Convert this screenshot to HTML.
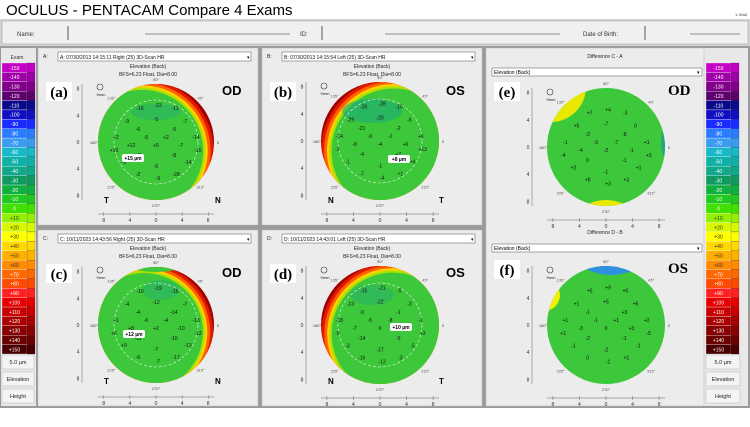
<!DOCTYPE html>
<html><head><meta charset="utf-8">
<style>
body{margin:0;width:750px;height:422px;overflow:hidden;background:#fff;font-family:"Liberation Sans",sans-serif}
</style></head>
<body>
<svg id="s" width="750" height="422" viewBox="0 0 750 422" xmlns="http://www.w3.org/2000/svg">
<rect x="0" y="0" width="750" height="422" fill="#fff"/>
<text x="6" y="15" font-size="15" font-family="Liberation Sans">OCULUS  -  PENTACAM   Compare 4 Exams</text>
<text x="735" y="16" font-size="4" fill="#444">1.39a5</text>
<rect x="0" y="19" width="750" height="27" fill="#d4d4d4"/>
<rect x="2" y="21" width="746" height="23" fill="#f0f0f0" stroke="#999" stroke-width="0.5"/>
<text x="17" y="36" font-size="6" fill="#333">Name:</text>
<line x1="68" y1="26" x2="68" y2="40" stroke="#333" stroke-width="0.8"/>
<line x1="145" y1="34" x2="290" y2="34" stroke="#333" stroke-width="0.6"/>
<text x="300" y="36" font-size="6" fill="#333">ID:</text>
<line x1="322" y1="26" x2="322" y2="40" stroke="#333" stroke-width="0.8"/>
<line x1="385" y1="34" x2="560" y2="34" stroke="#333" stroke-width="0.6"/>
<text x="583" y="36" font-size="6" fill="#333">Date of Birth:</text>
<line x1="645" y1="26" x2="645" y2="40" stroke="#333" stroke-width="0.8"/>
<line x1="690" y1="34" x2="740" y2="34" stroke="#333" stroke-width="0.6"/>
<rect x="0" y="46" width="750" height="376" fill="#9a9a9a"/>
<rect x="0" y="408" width="750" height="14" fill="#fff"/>
<g id="g"></g>
</svg>
<script>
const scaleLabels=['-150','-140','-130','-120','-110','-100','-90','-80','-70','-60','-50','-40','-30','-20','-10','0','+10','+20','+30','+40','+50','+60','+70','+80','+90','+100','+110','+120','+130','+140','+150'];
const scaleColors=['#c400c4','#a000a8','#80008a','#5c006c','#0a0a8c','#1010c0','#1a2cff','#2a7cff','#3a9cf0','#18b8c8','#10b0a8','#10a888','#109a60','#10b040','#20c820','#40e000','#90f000','#d8f800','#ffff00','#ffd800','#ffb000','#ff8c00','#ff6800','#ff4800','#ff2020','#e80000','#c80000','#a80000','#880000','#6a0000','#4a0000'];
const posX=[-16,2,19,-29,0,29,-18,18,-40,-10,10,40,-25,0,25,-42,42,-18,18,-32,0,32,-18,2,20];
const posY=[-34,-37,-34,-21,-23,-21,-13,-13,-5,-5,-5,-5,3,3,3,8,8,13,13,20,24,20,32,36,32];
const valsA=['-16','-23','-13','-9','-5','-7','-6','-5','+2','-5','+2','-14','+12','+5','-7','+10','-15','+11','-8','-6','-6','-14','-2','-9','-28'];
const valsB=['-26','-28','-16','-29','-20','-6','-21','-2','-14','-9','-1','+6','-8','-4','+6','-2','+13','-4','+7','-1','-1','+4','-7','-4','+1'];
const valsC=['-10','-19','-16','-4','-12','-7','-4','-14','+1','-6','-4','-13','+8','+2','-10','+6','-12','-11','-10','+9','-7','-13','-6','-7','-17'];
const valsD=['-15','-21','-5','-13','-22','-3','-9','-1','-18','-5','-8','-1','-7','0','-3','-5','+3','-14','-5','-3','-17','-5','-16','-13','-3'];
const valsE=['+7','+4','-3','+5','-7','0','-2','-8','-1','-3','-7','+1','-4','-2','-1','-4','+3','0','-1','+2','-1','+1','+8','+3','+3'];
const valsF=['+5','+9','+6','+1','+5','+6','-1','+3','+1','-1','+1','+2','-3','0','+3','+1','-5','-2','-1','-1','-2','-1','0','-1','+1'];
const axisTicks=['8','4','0','4','8'];
const NS='http://www.w3.org/2000/svg';
const G=document.getElementById('g');
function el(t,a,p){const e=document.createElementNS(NS,t);for(const k in a)e.setAttribute(k,a[k]);(p||G).appendChild(e);return e;}
function tx(x,y,s,sz,o){const e=el('text',Object.assign({x:x,y:y,'font-size':sz,'font-family':'Liberation Sans'},o||{}));e.textContent=s;return e;}
// lens = intersection of circle (cx,cy,r) and circle (ox,oy,p)
function lens(cx,cy,r,ox,oy,p,fill){
  const d=Math.hypot(ox-cx,oy-cy);
  if(d+r<=p){return el('circle',{cx:cx,cy:cy,r:r,fill:fill});}
  if(d+p<=r){return el('circle',{cx:ox,cy:oy,r:p,fill:fill});}
  if(d>=r+p)return null;
  const ux=(ox-cx)/d, uy=(oy-cy)/d, px=-uy, py=ux;
  const a=(d*d+r*r-p*p)/(2*d), h=Math.sqrt(Math.max(0,r*r-a*a));
  const mx=cx+a*ux, my=cy+a*uy;
  const x1=mx+h*px,y1=my+h*py,x2=mx-h*px,y2=my-h*py;
  const lc=a<0?1:0, lo=(d-a)<0?1:0;
  return el('path',{d:`M${x1},${y1} A${r},${r} 0 ${lc} 0 ${x2},${y2} A${p},${p} 0 ${lo} 0 ${x1},${y1} Z`,fill:fill});
}
function colorScale(x,y0,h){
  const ch=h/scaleLabels.length;
  for(let i=0;i<scaleLabels.length;i++){
    const r=el('rect',{x:x,y:y0+i*ch,width:25,height:ch,fill:scaleColors[i],stroke:'#fff','stroke-width':0.3});
    
    
    el('rect',{x:x+25,y:y0+i*ch,width:8,height:ch,fill:scaleColors[i],stroke:'#222','stroke-width':0.2});
    const t=tx(x+12.5,y0+i*ch+ch*0.72,scaleLabels[i],5,{'text-anchor':'middle',fill:(i>=16&&i<=21)?'#333':'#fff'});
    
    
  }
}
el('rect',{x:1,y:48,width:35,height:358,fill:'#e8e8e8'});
tx(17,59,'Exam',5,{'text-anchor':'middle',fill:'#333'});
colorScale(2,63,291);
[['5.0 µm',364],['Elevation',381],['Height',398]].forEach(([s,y])=>{el('rect',{x:2,y:y-9,width:32,height:14,fill:'#f4f4f4',stroke:'#aaa','stroke-width':0.4});const t=tx(18,y,s,5.5,{'text-anchor':'middle',fill:'#222'});});
el('rect',{x:704,y:48,width:44,height:358,fill:'#e8e8e8'});
colorScale(706,63,291);
[['5.0 µm',364],['Elevation',381],['Height',398]].forEach(([s,y])=>{el('rect',{x:706,y:y-9,width:34,height:14,fill:'#f4f4f4',stroke:'#aaa','stroke-width':0.4});const t=tx(723,y,s,5.5,{'text-anchor':'middle',fill:'#222'});});
const GREEN='#3cc83a';
const layers=[[0.96,'#e01800'],[0.92,'#ff6000'],[0.88,'#ffd000'],[0.85,'#b0e000'],[0.82,GREEN]];
function map(cx,cy,r,vals,opts){
  const c=el('circle',{cx:cx,cy:cy,r:r,fill:opts.crescent?'#a00000':GREEN});
  
  
  if(opts.crescent){
    const R=r+Math.hypot(opts.dx,opts.dy);
    layers.forEach(([f,col])=>lens(cx,cy,r,cx+opts.dx,cy+opts.dy,R*f,col));
  }
  (opts.patches||[]).forEach(b=>lens(cx,cy,r,cx+b[0],cy+b[1],b[2],b[3]));
  (opts.blobs||[]).forEach(b=>el('ellipse',{cx:cx+b[0],cy:cy+b[1],rx:b[2],ry:b[3],fill:b[4],opacity:b[5]||0.55}));
  if(opts.ring){el('circle',{cx:cx,cy:cy,r:42,fill:'none',stroke:'#eee','stroke-width':0.6,'stroke-dasharray':'3 2'});}
  [['90°',0,-1],['270°',0,1],['0',1,0],['180°',-1,0]].forEach(([s,ax,ay])=>{tx(cx+ax*(r+4),cy+ay*(r+5)+2,s,4,{'text-anchor':'middle',fill:'#444'});});
  [45,135,225,315].forEach(a=>{const rad=a*Math.PI/180;tx(cx+Math.cos(rad)*(r+5),cy-Math.sin(rad)*(r+5)+2,a+'°',4,{'text-anchor':'middle',fill:'#555'});});
  for(let i=0;i<vals.length;i++){
    const t=tx(cx+posX[i]*r/58,cy+posY[i]*r/58+2,vals[i],5,{'text-anchor':'middle',fill:'#111'});
    
    
  }
  const ax=cx-74;
  el('line',{x1:ax,y1:cy-r,x2:ax,y2:cy+r,stroke:'#666','stroke-width':0.5});
  el('line',{x1:cx-r,y1:cy+r+14,x2:cx+r,y2:cy+r+14,stroke:'#666','stroke-width':0.5});
  for(let i=0;i<axisTicks.length;i++){
    const yy=cy-r*0.92+i*r*0.46, xx=cx-r*0.9+i*r*0.45;
    const t1=tx(ax-4,yy+2,axisTicks[i],5,{'text-anchor':'middle',fill:'#333'});
    
    
    const t2=tx(xx,cy+r+22,axisTicks[i],5,{'text-anchor':'middle',fill:'#333'});
    
    
    el('line',{x1:xx,y1:cy+r+12,x2:xx,y2:cy+r+16,stroke:'#666','stroke-width':0.5});
  }
  el('circle',{cx:cx-56,cy:cy-55,r:3,fill:'none',stroke:'#333','stroke-width':0.6});
  tx(cx-55,cy-46,'9mm',4,{'text-anchor':'middle',fill:'#222'});
  if(opts.bubble){el('rect',{x:cx+opts.bubble[0],y:cy+opts.bubble[1],width:22,height:8,fill:'#fff',rx:2});tx(cx+opts.bubble[0]+11,cy+opts.bubble[1]+6,opts.bubble[2],5,{'text-anchor':'middle','font-weight':'bold'});}
}
function panel(x,y,w,h,letter,title,sub,lab,eye,corner){
  const p=el('rect',{x:x,y:y,width:w,height:h,fill:'#ececec',stroke:'#bbb','stroke-width':0.5});
  
  
  if(title!==null){
    tx(x+5,y+10,letter+':',5,{fill:'#222'});
    const d=el('rect',{x:x+20,y:y+4,width:w-27,height:9,fill:'#fff',stroke:'#555','stroke-width':0.5});
    
    
    tx(x+22,y+11,title,5,{fill:'#111'});
    tx(x+w-11,y+11,'▾',5,{fill:'#111'});
    tx(x+w/2,y+20,sub,5,{'text-anchor':'middle',fill:'#222'});
    tx(x+w/2,y+28,'BFS=6.23 Float, Dia=8.00',5,{'text-anchor':'middle',fill:'#222'});
  }
  el('rect',{x:x+8,y:y+34,width:26,height:19,fill:'#fff'});
  const l=tx(x+21,y+49,lab,15,{'text-anchor':'middle','font-family':'Liberation Serif','font-weight':'bold'});
  
  
  const e=tx(x+w-36,y+47,eye,title===null?15:13,{'font-weight':'bold','font-family':title===null?'Liberation Serif':'Liberation Sans'});
  
  
  if(corner){tx(x+66,y+h-22,corner[0],8,{'font-weight':'bold'});tx(x+177,y+h-22,corner[1],8,{'font-weight':'bold'});}
}
panel(38,48,220,177,'A','A: 07/30/2013  14:15:11  Right  (25) 3D-Scan HR','Elevation (Back)','(a)','OD',['T','N']);
map(156,142,58,valsA,{crescent:true,dx:-14,dy:9,ring:true,blobs:[[0,-30,25,8,'#28b070']],bubble:[-34,12,'+15 µm']});
panel(262,48,220,177,'B','B: 07/30/2013  14:15:54  Left  (25) 3D-Scan HR','Elevation (Back)','(b)','OS',['N','T']);
map(380,141,59,valsB,{crescent:true,dx:14,dy:10,ring:true,blobs:[[-8,-30,30,12,'#18a880']],bubble:[8,14,'+8 µm']});
panel(38,230,220,176,'C','C: 10/11/2023  14:43:56  Right  (25) 3D-Scan HR','Elevation (Back)','(c)','OD',['T','N']);
map(156,325,58,valsC,{crescent:true,dx:-12,dy:7,ring:true,patches:[[0,-150,97,GREEN]],blobs:[[5,-35,18,10,'#28b070']],bubble:[-33,5,'+12 µm']});
panel(262,230,220,176,'D','D: 10/11/2023  14:43:01  Left  (25) 3D-Scan HR','Elevation (Back)','(d)','OS',['N','T']);
map(380,325,59,valsD,{crescent:true,dx:13,dy:9,ring:true,blobs:[[-8,-30,22,10,'#28b070']],bubble:[10,-2,'+10 µm']});
el('rect',{x:486,y:48,width:218,height:358,fill:'#ececec',stroke:'#bbb','stroke-width':0.5});
tx(605,58,'Difference C - A',5,{'text-anchor':'middle',fill:'#222'});
const d1=el('rect',{x:492,y:68,width:210,height:8,fill:'#fff',stroke:'#555','stroke-width':0.5});


tx(494,74,'Elevation (Back)',5);
tx(697,74,'▾',5);
panel(486,48,218,0,'E',null,'','(e)','OD',null);
map(606,147,59,valsE,{crescent:false,patches:[[-55,-60,35,'#e8e800'],[0,95,42,'#e8e800'],[95,-5,40,'#20a880']]});
tx(605,234,'Difference D - B',5,{'text-anchor':'middle',fill:'#222'});
const d2=el('rect',{x:492,y:244,width:210,height:8,fill:'#fff',stroke:'#555','stroke-width':0.5});


tx(494,250,'Elevation (Back)',5);
tx(697,250,'▾',5);
panel(486,226,218,0,'F',null,'','(f)','OS',null);
map(606,325,59,valsF,{crescent:false,patches:[[5,-105,55,'#3090e0'],[-62,-30,16,'#f0f000']]});
</script>
</body></html>
